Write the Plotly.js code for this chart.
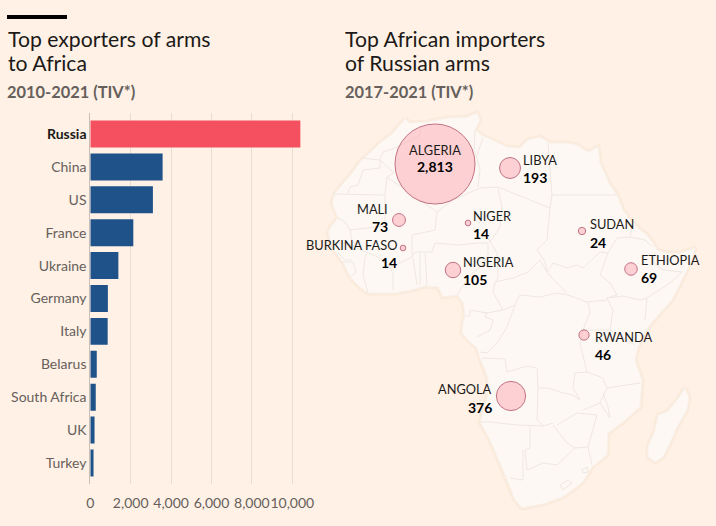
<!DOCTYPE html>
<html><head><meta charset="utf-8">
<script src="https://cdn.plot.ly/plotly-3.0.1.min.js"></script>
<style>html,body{margin:0;padding:0;background:#fff1e5}</style></head>
<body><div id="chart" style="width:716px;height:526px"></div>
<script>
const exporters = ["Russia","China","US","France","Ukraine","Germany","Italy","Belarus","South Africa","UK","Turkey"];
const exportValues = [10400,3580,3100,2130,1390,870,860,320,270,210,160];
const exportTicks = [0,2000,4000,6000,8000,10000];
const exportTickLabels = ["0","2,000","4,000","6,000","8,000","10,000"];

const importers = ["ALGERIA","LIBYA","MALI","NIGER","BURKINA FASO","NIGERIA","SUDAN","ETHIOPIA","RWANDA","ANGOLA"];
const importValues = [2813,193,73,14,14,105,24,69,46,376];
const importLabels = ["2,813","193","73","14","14","105","24","69","46","376"];
const bubbleMapX = [435,510,399,468,403,453,582,631,584,511];
const bubbleMapY = [164,168,220,223,248,270,231,269,335,396];
const nameMapX = [435,523,388,473,397,463,590,641,595,492];
const nameMapY = [150,160,209,216,245,262,224,260,337,389];
const valueMapY = [166,177,226,233,262,279,242,277,354,407];
const labelAnchor = ["center","left","right","left","right","left","left","left","left","right"];

// Traced map of Africa, in map units
const coast = [405,119,398,127,392,134,380,143,368,155,360,162,352,173,343,183,335,193,332,203,336,213,338,218,332,225,328,232,330,240,335,252,343,262,350,277,360,287,368,293,382,293,395,293,412,290,425,286,438,287,443,297,457,295,463,302,465,315,463,322,462,333,470,342,477,348,480,358,485,370,488,380,487,397,480,422,490,440,500,463,508,482,515,500,522,508,543,504,563,497,583,482,592,467,607,455,608,433,623,422,640,407,642,380,635,360,638,347,648,327,672,300,685,275,692,260,695,248,680,253,667,253,657,250,653,243,647,235,637,227,630,220,623,210,617,195,610,185,600,163,598,147,588,152,577,145,567,143,550,143,540,137,528,140,520,148,507,147,493,140,483,136,475,130,480,120,477,113,467,117,447,118,427,122,410,123,405,119];
const madagascar = [685,388,689,397,687,410,677,427,670,443,663,457,655,462,648,457,648,447,655,430,658,415,667,412,677,400,685,388];
const borders = [
 [421,127,420,135,407,142,395,148,383,152,380,160,394,173,387,177,385,195,333,194],
 [362,158,380,160,380,168,363,170,358,185,350,187,348,193],
 [387,177,430,207,437,212,453,200,480,188,498,187,550,208,552,195,548,143],
 [552,195,617,195],
 [550,208,547,240,537,250,545,262,547,272],
 [498,188,502,207,500,227,490,242,488,238,497,253,498,278,495,283],
 [495,282,513,278,528,272,540,260,547,272],
 [495,283,493,292,503,310],
 [547,272,553,263,567,268,577,265,583,268,595,257,600,252,608,253,617,238,630,237,632,228],
 [630,237,645,240,653,247],
 [608,253,600,275,610,283,617,295,607,298,623,296,640,300,647,298,670,283,682,272,663,270,653,262,655,253],
 [647,298,645,320],
 [607,298,613,310,610,330,635,345],
 [518,298,520,295,540,297,557,293,568,295,587,302,607,300],
 [547,272,552,278,567,293],
 [588,302,590,312,583,330,580,343,587,372,603,378,607,388,640,383],
 [583,330,610,330],
 [338,218,345,222,350,230,365,228,385,226,385,195],
 [333,242,352,245,357,248,367,252,380,258,390,268,412,257,415,252,432,252,435,243,458,245,478,243,488,243],
 [350,230,352,240,357,248],
 [338,253,345,260,352,260],
 [343,262,353,262,356,272,350,277],
 [367,252,365,258,363,275,368,293],
 [393,273,393,290],[390,268,393,273],
 [413,258,417,285],[420,253,420,285],[425,253,427,286],
 [412,257,412,235,435,230,437,212],
 [457,295,468,278,482,265,488,255,488,243],
 [503,310,487,313,470,310],
 [470,310,470,316,465,316],
 [487,312,485,317,493,320,490,330,477,337],
 [503,310,515,305,518,298],[515,305,507,327,497,343,487,353,480,352],
 [482,358,505,359,507,372,527,366,537,368,538,388,548,388,563,393,573,395,580,400,573,388,575,373,587,372],
 [538,388,537,420,543,425],
 [480,422,490,422,517,425,543,426,553,423],
 [530,427,530,448,525,450,527,470,543,463,557,465,575,448,588,447],
 [523,450,523,480,510,478],
 [553,425,567,443,575,448],
 [557,425,577,413,597,415,592,432,588,447,592,465],
 [583,410,600,403,607,388],
 [600,403,608,416,610,418,608,407,603,393],
 [560,485,568,480,572,483,563,490,560,485],
 [582,470,587,467,588,472,583,473,582,470],
 [475,130,474,150,476,155,480,170,478,187],
 [483,138,477,155]
];

function xs(a){return a.filter((_,i)=>i%2===0);}
function ys(a){return a.filter((_,i)=>i%2===1);}
const borderX=[],borderY=[];
borders.forEach(b=>{borderX.push(...xs(b),null);borderY.push(...ys(b),null);});

const ink="#1c1a18", grey="#66605c", font="Lato, sans-serif";
const halo={color:"rgba(190,150,115,0.07)",width:5};

const traces = [
 {type:"bar",orientation:"h",y:exporters,x:exportValues,width:0.82,xaxis:"x",yaxis:"y",
  marker:{color:exporters.map((_,i)=>i===0?"#f5505f":"#1f5288")},hoverinfo:"x+y"},
 {type:"scatter",mode:"lines",x:xs(coast),y:ys(coast),xaxis:"x2",yaxis:"y2",line:halo,hoverinfo:"skip"},
 {type:"scatter",mode:"lines",x:xs(madagascar),y:ys(madagascar),xaxis:"x2",yaxis:"y2",line:halo,hoverinfo:"skip"},
 {type:"scatter",mode:"lines",x:xs(coast),y:ys(coast),fill:"toself",fillcolor:"#fdf8f3",xaxis:"x2",yaxis:"y2",line:{color:"#f9f0e8",width:1},hoverinfo:"skip"},
 {type:"scatter",mode:"lines",x:xs(madagascar),y:ys(madagascar),fill:"toself",fillcolor:"#fdf8f3",xaxis:"x2",yaxis:"y2",line:{color:"#f9f0e8",width:1},hoverinfo:"skip"},
 {type:"scatter",mode:"lines",x:borderX,y:borderY,xaxis:"x2",yaxis:"y2",line:{color:"#efe8e1",width:1},connectgaps:false,hoverinfo:"skip"},
 {type:"scatter",mode:"markers",x:bubbleMapX,y:bubbleMapY,text:importers,customdata:importValues,xaxis:"x2",yaxis:"y2",
  marker:{size:importValues,sizemode:"area",sizeref:0.879,sizemin:1,color:"rgba(253,170,180,0.72)",line:{color:"#a93a57",width:1}},
  hovertemplate:"%{text}: %{customdata}<extra></extra>"}
];

function note(text,x,y,size,color,anchor,xref,yref){
  return {text,x,y,xref:xref||"paper",yref:yref||"paper",xanchor:anchor||"left",yanchor:"middle",showarrow:false,
          font:{family:font,size,color},borderpad:0,borderwidth:0,align:anchor||"left"};
}
const W=716,H=526;
const annotations = [
 note("Top exporters of arms",8/W,1-39/H,21.2,ink),
 note("to Africa",8/W,1-63/H,21.2,ink),
 note("<b>2010-2021 (TIV*)</b>",7/W,1-92/H,16.4,grey),
 note("Top African importers",345/W,1-39/H,21.2,ink),
 note("of Russian arms",345/W,1-63/H,21.2,ink),
 note("<b>2017-2021 (TIV*)</b>",345/W,1-92/H,16.4,grey)
];
importers.forEach((n,i)=>{
  annotations.push(note(n,nameMapX[i],nameMapY[i],12.8,ink,labelAnchor[i],"x2","y2"));
  annotations.push(note("<b>"+importLabels[i]+"</b>",nameMapX[i],valueMapY[i],14,"#000",labelAnchor[i],"x2","y2"));
});

const layout = {
 width:W,height:H,margin:{l:0,r:0,t:0,b:0},paper_bgcolor:"#fff1e5",plot_bgcolor:"rgba(0,0,0,0)",showlegend:false,
 font:{family:font,color:grey},
 xaxis:{domain:[90.3/W,305/W],range:[0,10630],tickmode:"array",tickvals:exportTicks,ticktext:exportTickLabels,tickangle:0,
   showgrid:true,gridcolor:"#e6ddd3",gridwidth:1,zeroline:false,ticks:"outside",ticklen:6,tickcolor:"rgba(0,0,0,0)",
   tickfont:{family:font,size:14,color:grey},anchor:"y",showline:false},
 yaxis:{domain:[1-484/H,1-113/H],range:[10.64,-0.64],type:"category",categoryorder:"array",categoryarray:exporters,
   tickmode:"array",tickvals:exporters,
   ticktext:exporters.map((e,i)=>i===0?'<span style="color:'+ink+'"><b>'+e+'</b></span>':e),
   ticks:"",ticklen:0,tickfont:{family:font,size:14,color:grey},
   showgrid:false,zeroline:false,showline:true,linecolor:"#c8c0b8",linewidth:1,anchor:"x"},
 xaxis2:{domain:[0,1],range:[0,W],visible:false,anchor:"y2",fixedrange:true},
 yaxis2:{domain:[0,1],range:[H,0],visible:false,anchor:"x2",fixedrange:true},
 shapes:[{type:"rect",xref:"paper",yref:"paper",x0:7/W,x1:67/W,y0:1-19/H,y1:1-15/H,fillcolor:"#000",line:{width:0}}],
 annotations
};
Plotly.newPlot("chart",traces,layout,{displayModeBar:false,responsive:false});
</script></body></html>
